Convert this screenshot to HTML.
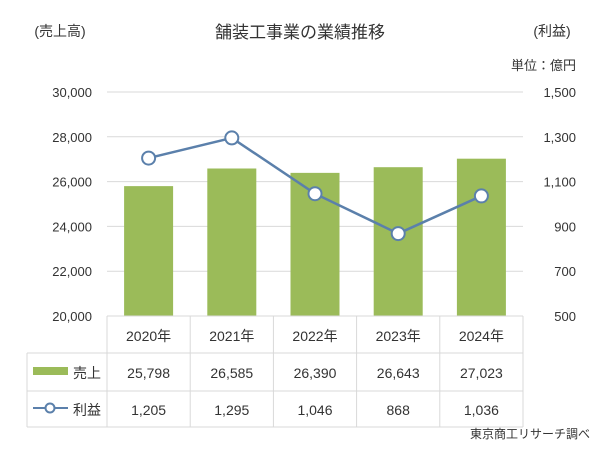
<!DOCTYPE html>
<html><head><meta charset="utf-8"><style>
body{margin:0;background:#fff;font-family:"Liberation Sans","Noto Sans CJK JP",sans-serif;}
svg text{font-family:"Liberation Sans","Noto Sans CJK JP",sans-serif;fill:#333;}
</style></head><body>
<svg id="c" width="600" height="450"></svg>
<script>
const categories=["2020年","2021年","2022年","2023年","2024年"];
const sales=[25798,26585,26390,26643,27023];
const profit=[1205,1295,1046,868,1036];
const salesLabels=["25,798","26,585","26,390","26,643","27,023"];
const profitLabels=["1,205","1,295","1,046","868","1,036"];
const leftTicks=[20000,22000,24000,26000,28000,30000];
const rightTicks=[500,700,900,1100,1300,1500];
const NS="http://www.w3.org/2000/svg",svg=document.getElementById('c');
const L=107,R=523,T=92,B=316;
const yL=v=>B-(v-20000)/10000*(B-T);
const yR=v=>B-(v-500)/1000*(B-T);
const cw=(R-L)/categories.length;
const xc=i=>L+cw*(i+0.5);
function el(t,a,txt){const e=document.createElementNS(NS,t);for(const k in a)e.setAttribute(k,a[k]);if(txt!=null)e.textContent=txt;svg.appendChild(e);return e;}
function tx(x,y,s,anchor,size,name){const e=el('text',{x:x,y:y,'text-anchor':anchor,'font-size':size},s);

return e;}
tx(60,36,'(売上高)','middle',14,'left-axis-title');
tx(300,38,'舗装工事業の業績推移','middle',17,'chart-title');
tx(552,36,'(利益)','middle',14,'right-axis-title');
tx(576,70,'単位：億円','end',13,'unit-label');
leftTicks.forEach(v=>{
 if(v>20000){const g=el('line',{x1:L,x2:R,y1:yL(v),y2:yL(v),stroke:'#d9d9d9'});
 
 }
 tx(92,yL(v)+5,v.toLocaleString('en-US'),'end',13,'left-tick-label');
});
rightTicks.forEach(v=>{tx(576,yR(v)+5,v.toLocaleString('en-US'),'end',13,'right-tick-label');});
sales.forEach((v,i)=>{const bw=49;const r=el('rect',{x:xc(i)-bw/2,y:yL(v),width:bw,height:B-yL(v),fill:'#9bbb59'});

});
const pl=el('polyline',{points:profit.map((v,i)=>xc(i)+','+yR(v)).join(' '),fill:'none',stroke:'#5b80ab','stroke-width':2.5});


profit.forEach((v,i)=>{const c=el('circle',{cx:xc(i),cy:yR(v),r:6.5,fill:'#fff',stroke:'#5b80ab','stroke-width':2});

});
// table
const rows=[B,353,391,427];
const tl=27;
[[L,R,B],[tl,R,353],[tl,R,391],[tl,R,427]].forEach(a=>{const l=el('line',{x1:a[0],x2:a[1],y1:a[2],y2:a[2],stroke:'#d9d9d9'});

});
for(let i=0;i<=categories.length;i++){const x=L+cw*i;const l=el('line',{x1:x,x2:x,y1:B,y2:427,stroke:'#d9d9d9'});

}
const l0=el('line',{x1:tl,x2:tl,y1:353,y2:427,stroke:'#d9d9d9'});


categories.forEach((c,i)=>{tx(xc(i),341,c,'middle',14,'category-label');
tx(xc(i),378,salesLabels[i],'middle',14,'sales-value');
tx(xc(i),415,profitLabels[i],'middle',14,'profit-value');});
const lg=el('rect',{x:33,y:367,width:35,height:8,fill:'#9bbb59'});


tx(101,378,'売上','end',14,'legend-sales');
const ll=el('line',{x1:33,x2:68,y1:408,y2:408,stroke:'#5b80ab','stroke-width':2});


const lc=el('circle',{cx:50,cy:408,r:4.5,fill:'#fff',stroke:'#5b80ab','stroke-width':2});


tx(101,415,'利益','end',14,'legend-profit');
tx(590,448-10,'東京商工リサーチ調べ','end',12,'source-note');
</script>
</body></html>
